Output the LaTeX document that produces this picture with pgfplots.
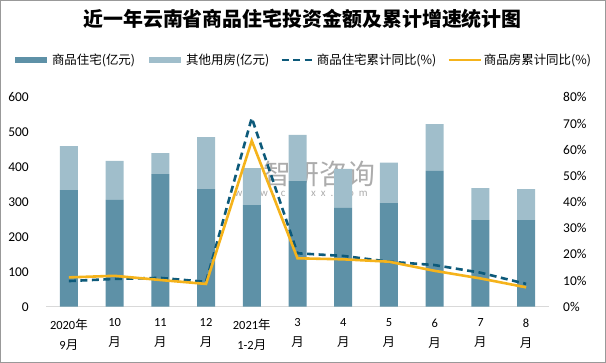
\documentclass[border=0pt]{standalone}
\usepackage{fontspec}
\setmainfont{Carlito}
\newfontfamily\cjk{Noto Sans CJK SC}
\usepackage{pgfplots}
\pgfplotsset{compat=1.18}
\definecolor{cdark}{HTML}{5E91A7}
\definecolor{clight}{HTML}{A0BECB}
\definecolor{cdash}{HTML}{0D5A7A}
\definecolor{cyel}{HTML}{F5B31B}
\begin{document}
\begin{tikzpicture}
\path[draw=black!40, line width=1bp] (0.5bp,0.5bp) rectangle (605.5bp,362.5bp);
\begin{axis}[
  at={(46bp,56.3bp)}, anchor=south west,
  scale only axis, width=503bp, height=209.4bp,
  xmin=-0.5, xmax=10.5, ymin=0, ymax=600,
  ybar stacked, bar width=18bp,
  axis x line*=bottom, axis y line*=left,
  x axis line style={draw=black!15, line width=1bp},
  y axis line style={draw=none},
  xtick={0,...,10}, major tick length=0pt,
  xticklabels={{2020\cjk{年}\\9\cjk{月}},{10\\\cjk{月}},{11\\\cjk{月}},{12\\\cjk{月}},{2021\cjk{年}\\1-2\cjk{月}},{3\\\cjk{月}},{4\\\cjk{月}},{5\\\cjk{月}},{6\\\cjk{月}},{7\\\cjk{月}},{8\\\cjk{月}}},
  xticklabel style={font=\fontsize{12.5}{20}\selectfont, align=center, anchor=north, inner sep=0pt, yshift=-12bp},
  ytick={0,100,...,600},
  /pgf/number format/assume math mode=true,
  yticklabel style={font=\fontsize{13.5}{16}\selectfont, anchor=east, inner sep=0pt, xshift=-17bp},
  title={\cjk\bfseries 近一年云南省商品住宅投资金额及累计增速统计图},
  title style={at={(0.51,1.345)}, anchor=center, font=\fontsize{20}{24}\selectfont},
  clip=false,
]
\addplot[fill=cdark, draw=none] coordinates {(0,334) (1,306) (2,380) (3,337) (4,291) (5,360) (6,283) (7,297) (8,389) (9,248) (10,248)};
\addplot[fill=clight, draw=none] coordinates {(0,126) (1,112) (2,60) (3,149) (4,106) (5,132) (6,112) (7,116) (8,134) (9,92) (10,89)};
\node[text=black!50, text opacity=0.65, font=\cjk\fontsize{28}{30}\selectfont] at (rel axis cs:0.543,0.634) {智研咨询};
\node[text=black!50, text opacity=0.65, font=\fontsize{11}{12}\selectfont] at (rel axis cs:0.507,0.538) {w\hspace{5bp}w\hspace{5bp}w\hspace{5bp}.\hspace{5bp}c\hspace{5bp}h\hspace{5bp}y\hspace{5bp}x\hspace{5bp}x\hspace{5bp}.\hspace{5bp}c\hspace{5bp}o\hspace{5bp}m};
\end{axis}
\begin{axis}[
  at={(46bp,56.3bp)}, anchor=south west,
  scale only axis, width=503bp, height=209.4bp,
  xmin=-0.5, xmax=10.5, ymin=0, ymax=80,
  axis x line=none, axis y line*=right,
  y axis line style={draw=none},
  major tick length=0pt,
  ytick={0,10,...,80},
  /pgf/number format/assume math mode=true,
  yticklabel={\pgfmathprintnumber{\tick}\%},
  yticklabel style={font=\fontsize{13.5}{16}\selectfont, anchor=west, inner sep=0pt, xshift=14bp},
  legend image code/.code={\draw[#1] (0bp,0bp) -- (32bp,0bp);},
  legend style={at={(0.51,1.178)}, anchor=center, draw=none, fill=none,
    font=\cjk\fontsize{12.5}{14}\selectfont, inner sep=0pt,
    /tikz/every even column/.append style={column sep=9bp}},
  legend columns=4,
  clip=false,
]
\addlegendimage{line width=6bp, color=cdark}
\addlegendentry{商品住宅(亿元)}
\addlegendimage{line width=6bp, color=clight}
\addlegendentry{其他用房(亿元)}
\addplot[color=cdash, line width=2.6bp, dash pattern=on 7bp off 4.5bp] coordinates {(0,9.8) (1,10.6) (2,11.0) (3,9.5) (4,72.1) (5,20.4) (6,19.4) (7,17.2) (8,15.9) (9,13.0) (10,8.7)};
\addlegendentry{商品住宅累计同比(\%)}
\addplot[color=cyel, line width=2.6bp] coordinates {(0,11.2) (1,11.8) (2,10.2) (3,8.7) (4,63.4) (5,18.5) (6,18.1) (7,17.2) (8,13.7) (9,10.8) (10,7.4)};
\addlegendentry{商品房累计同比(\%)}
\end{axis}
\end{tikzpicture}
\end{document}
